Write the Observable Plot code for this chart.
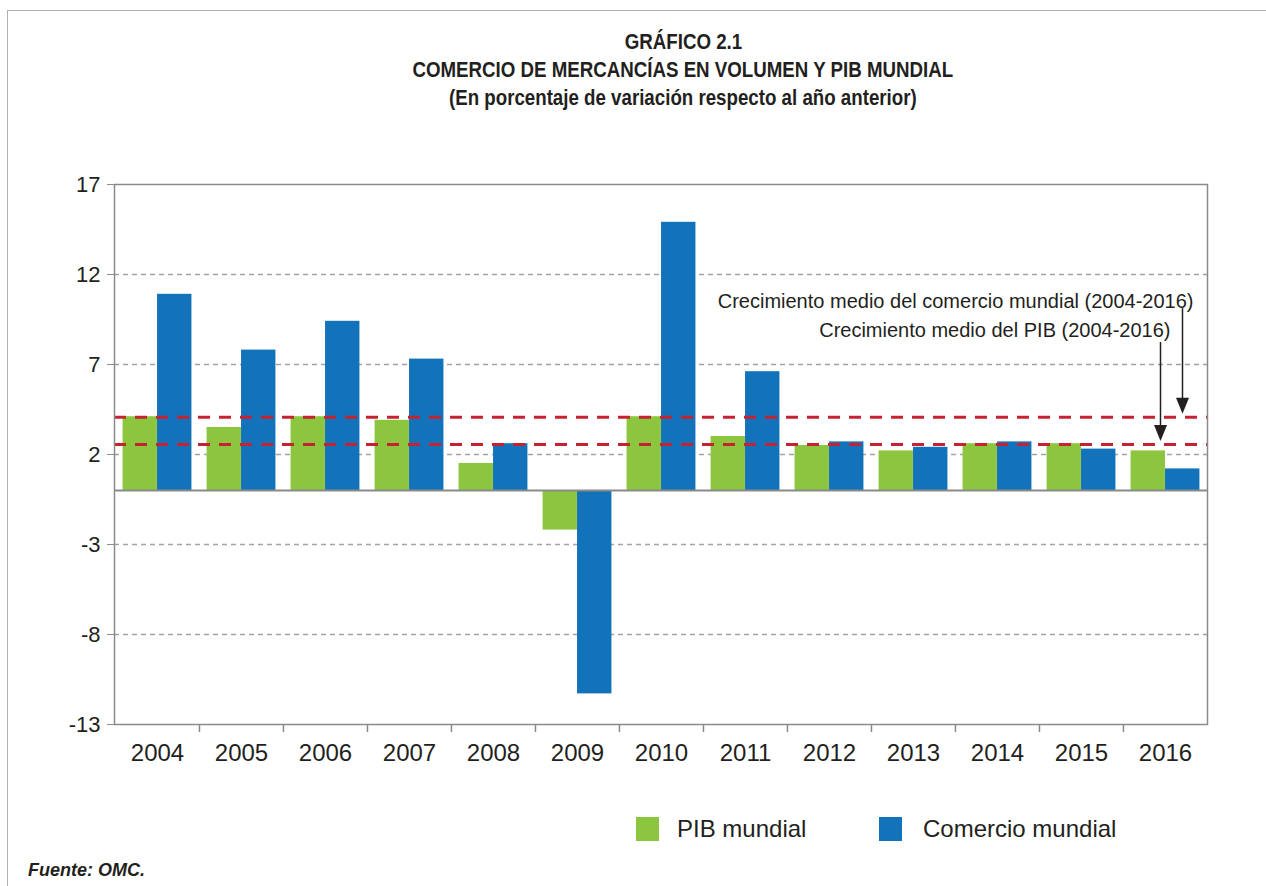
<!DOCTYPE html>
<html>
<head>
<meta charset="utf-8">
<script src="https://cdn.jsdelivr.net/npm/d3@7"></script>
<script src="https://cdn.jsdelivr.net/npm/@observablehq/plot@0.6"></script>
<style>
  body { margin: 0; background: #fff; font-family: "Liberation Sans", Arial, sans-serif; color: #231f20; }
  #page { position: relative; width: 1266px; height: 886px; overflow: hidden; background: #fff; }
  #border { position: absolute; left: 7px; top: 10px; width: 1400px; height: 1000px; border-left: 1.5px solid #b0b0b0; border-top: 1.5px solid #b0b0b0; }
  #title { position: absolute; left: 283px; width: 800px; top: 28px; text-align: center; font-family: "Liberation Sans", Arial, sans-serif; font-weight: bold; font-size: 21.5px; line-height: 28px; color: #231f20; }
  #title div { display: block; }
  #title span { display: inline-block; transform: scaleX(0.87); transform-origin: 50% 50%; white-space: nowrap; }
  #chart svg { position: absolute; left: 0; top: 150px; }
  .sw { position: absolute; width: 23px; height: 24px; }
  .lg { position: absolute; font-size: 24px; line-height: 24px; color: #231f20; }
  #source { position: absolute; left: 28px; top: 861px; font-size: 18px; line-height: 18px; font-weight: bold; font-style: italic; color: #231f20; }
</style>
</head>
<body>
<div id="page">
  <div id="border"></div>
  <div id="title"></div>
  <div id="chart"></div>
  <div id="legend"></div>
  <div id="source"></div>
</div>
<script>
// ---------- data ----------
const titleLines = ["GRÁFICO 2.1", "COMERCIO DE MERCANCÍAS EN VOLUMEN Y PIB MUNDIAL", "(En porcentaje de variación respecto al año anterior)"];
const years = ["2004","2005","2006","2007","2008","2009","2010","2011","2012","2013","2014","2015","2016"];
const pib = [4.1, 3.5, 4.1, 3.9, 1.5, -2.2, 4.1, 3.0, 2.5, 2.2, 2.6, 2.6, 2.2];
const comercio = [10.9, 7.8, 9.4, 7.3, 2.6, -11.3, 14.9, 6.6, 2.7, 2.4, 2.7, 2.3, 1.2];
const yTicks = [-13, -8, -3, 2, 7, 12, 17];
const seriesNames = ["PIB mundial", "Comercio mundial"];
const seriesColors = ["#8cc63f", "#1273bb"];
const avgLabels = ["Crecimiento medio del comercio mundial (2004-2016)", "Crecimiento medio del PIB (2004-2016)"];
const avgValues = [4.07, 2.56];
const sourceText = "Fuente: OMC.";

// ---------- layout ----------
const W = 1266, H = 620, ML = 114, MR = 59, MT = 34, MB = 46;
const step = (W - ML - MR) / years.length;
const gap = step * 0.09;
const barW = (step - 2 * gap) / 2;
const ink = "#231f20";
const axisGray = "#8a8a8a";

const pibRows = years.map((year, i) => ({year, value: pib[i]}));
const comRows = years.map((year, i) => ({year, value: comercio[i]}));

// annotation placement (label centre, arrow start, horizontal offsets)
const annot = [
  {label: avgLabels[0], value: avgValues[0], labelY: 10.47, arrowTop: 10.1, dxArrow: 17, dxText: 28},
  {label: avgLabels[1], value: avgValues[1], labelY: 8.86, arrowTop: 8.22, dxArrow: -5, dxText: 5}
];
const headW = 6.5, headH = 16;
const arrowHead = {
  draw(ctx) {
    ctx.moveTo(-headW, -headH / 2);
    ctx.lineTo(headW, -headH / 2);
    ctx.lineTo(0, headH / 2);
    ctx.closePath();
  }
};

const annotMarks = annot.flatMap(a => [
  Plot.text([a], {x: () => years[years.length - 1], y: "labelY", text: "label", textAnchor: "end", lineAnchor: "middle", dx: a.dxText, fontSize: 20, fill: ink}),
  Plot.ruleX([a], {x: () => years[years.length - 1], y1: "arrowTop", y2: "value", dx: a.dxArrow, insetBottom: 10, stroke: ink, strokeWidth: 1.5}),
  Plot.dot([a], {x: () => years[years.length - 1], y: "value", dx: a.dxArrow, dy: -(3.5 + headH / 2), symbol: arrowHead, r: 5, fill: ink, stroke: "none"})
]);

const chart = Plot.plot({
  width: W, height: H,
  marginLeft: ML, marginRight: MR, marginTop: MT, marginBottom: MB,
  x: {type: "band", domain: years, padding: 0, label: null},
  y: {domain: [-13, 17], label: null},
  style: {fontFamily: '"Liberation Sans", Arial, sans-serif', color: ink, background: "transparent", overflow: "visible"},
  marks: [
    Plot.ruleY(yTicks.filter(t => t > -13 && t < 17), {stroke: "#a3a3a3", strokeWidth: 1.3, strokeDasharray: "5,4"}),
    Plot.barY(pibRows, {x: "year", y: "value", fill: seriesColors[0], insetLeft: gap, insetRight: gap + barW}),
    Plot.barY(comRows, {x: "year", y: "value", fill: seriesColors[1], insetLeft: gap + barW, insetRight: gap}),
    Plot.ruleY([0], {stroke: axisGray, strokeWidth: 2}),
    Plot.ruleY(avgValues, {stroke: "#c62232", strokeWidth: 3, strokeDasharray: "12,9"}),
    Plot.frame({stroke: axisGray, strokeWidth: 1.5}),
    Plot.axisY({ticks: yTicks, tickSize: 7, tickPadding: 7, fontSize: 22, tickFormat: d => String(d), stroke: axisGray, fill: ink}),
    Plot.axisX({tickSize: 0, tickPadding: 19, fontSize: 24, fill: ink}),
    Plot.ruleX(years.slice(1), {x: d => d, y1: -13, y2: -13, insetBottom: -8, dx: -step / 2, stroke: axisGray, strokeWidth: 1.5}),
    ...annotMarks
  ]
});
document.getElementById("chart").appendChild(chart);

// ---------- title ----------
document.getElementById("title").innerHTML = titleLines.map(t => `<div><span>${t}</span></div>`).join("");

// ---------- legend ----------
const legend = document.getElementById("legend");
const legendPos = [{sq: 636, tx: 677}, {sq: 879, tx: 923}];
seriesNames.forEach((name, i) => {
  const sw = document.createElement("div");
  sw.className = "sw";
  sw.style.left = legendPos[i].sq + "px";
  sw.style.top = "817px";
  sw.style.background = seriesColors[i];
  legend.appendChild(sw);
  const tx = document.createElement("div");
  tx.className = "lg";
  tx.style.left = legendPos[i].tx + "px";
  tx.style.top = "817px";
  tx.textContent = name;
  legend.appendChild(tx);
});

document.getElementById("source").textContent = sourceText;
</script>
</body>
</html>
